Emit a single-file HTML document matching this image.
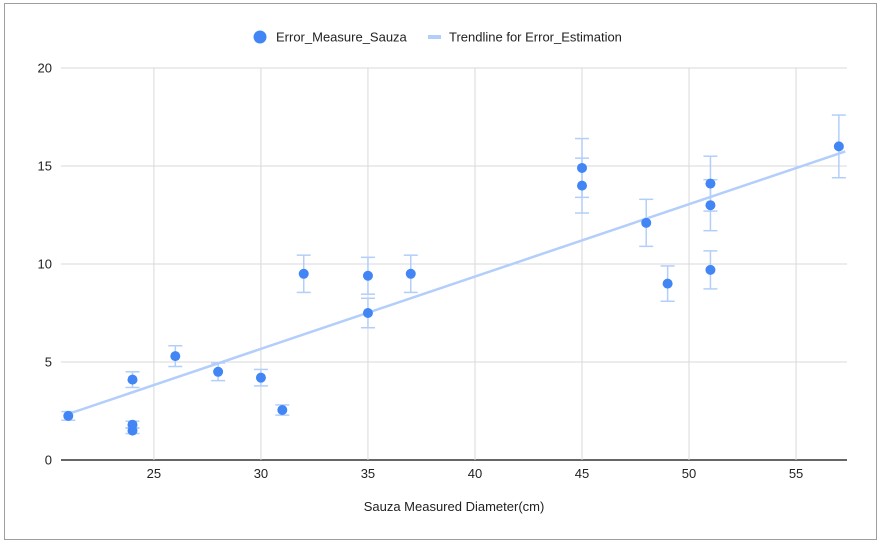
<!DOCTYPE html>
<html><head><meta charset="utf-8"><style>
body{margin:0;background:#fff;font-family:"Liberation Sans",sans-serif;}
svg text{font-family:"Liberation Sans",sans-serif;}
</style></head><body>
<svg id="chart" width="880" height="542" xmlns="http://www.w3.org/2000/svg">
<rect x="0" y="0" width="880" height="542" fill="#fff"/>
<rect x="4.5" y="3.5" width="872" height="536" fill="#fff" stroke="#9e9e9e"/>
<g>
<circle cx="260" cy="37" r="6.5" fill="#4285f4"/>
<text x="276" y="41.5" font-size="13" fill="#222">Error_Measure_Sauza</text>
<line x1="428" y1="37" x2="441" y2="37" stroke="#b3cefb" stroke-width="4"/>
<text x="449" y="41.5" font-size="13" fill="#222">Trendline for Error_Estimation</text>
</g>
<g id="grid"></g><g id="marks"></g>
<text x="454" y="511" font-size="13" text-anchor="middle" fill="#222">Sauza Measured Diameter(cm)</text>
</svg>
<script>
const xs=[21,24,24,24,26,28,30,31,32,35,35,37,45,45,48,49,51,51,51,57];
const ys=[2.25,4.1,1.8,1.5,5.3,4.5,4.2,2.55,9.5,9.4,7.5,9.5,14.9,14.0,12.1,9.0,14.1,13.0,9.7,16.0];
const errs=[0.22,0.4,0.18,0.15,0.53,0.45,0.42,0.26,0.95,0.94,0.75,0.95,1.5,1.4,1.2,0.9,1.4,1.3,0.97,1.6];
const xTicks=[25,30,35,40,45,50,55];
const yTicks=[0,5,10,15,20];
const trendSlope=[0.369];
const trendIntercept=[-5.4];
const X0=20.66,X1=57.38,PL=61,PR=847,PT=68,PB=460;
const sx=v=>PL+(v-X0)/(X1-X0)*(PR-PL);
const sy=v=>PB-(v/20)*(PB-PT);
const NS="http://www.w3.org/2000/svg";
const grid=document.getElementById('grid'),marks=document.getElementById('marks');
function mk(tag,attrs,parent){const e=document.createElementNS(NS,tag);for(const k in attrs)e.setAttribute(k,attrs[k]);parent.appendChild(e);return e;}
yTicks.forEach(t=>{
 const l=mk('line',{x1:PL,x2:PR,y1:sy(t),y2:sy(t),stroke:t===0?'#333':'#d9d9d9','stroke-width':t===0?1.5:1},grid);
 
 
 const tx=mk('text',{x:52,y:sy(t)+4.5,'font-size':13,'text-anchor':'end',fill:'#222'},grid);tx.textContent=t;
 
 
});
xTicks.forEach(t=>{
 const l=mk('line',{x1:sx(t),x2:sx(t),y1:PT,y2:PB,stroke:'#d9d9d9'},grid);
 
 
 const tx=mk('text',{x:sx(t),y:PB+18,'font-size':13,'text-anchor':'middle',fill:'#222'},grid);tx.textContent=t;
 
 
});
const tl=mk('line',{x1:sx(X0+0.3),y1:sy(trendSlope[0]*(X0+0.3)+trendIntercept[0]),x2:sx(57.3),y2:sy(trendSlope[0]*57.3+trendIntercept[0]),stroke:'#b3cefb','stroke-width':2.5},marks);


xs.forEach((x,i)=>{
 const g=mk('g',{},marks);
 
 
 const cx=sx(x),t=sy(ys[i]+errs[i]),b=sy(ys[i]-errs[i]);
 mk('line',{x1:cx,x2:cx,y1:t,y2:b,stroke:'#b3cefb','stroke-width':1.5},g);
 mk('line',{x1:cx-7,x2:cx+7,y1:t,y2:t,stroke:'#b3cefb','stroke-width':1.5},g);
 mk('line',{x1:cx-7,x2:cx+7,y1:b,y2:b,stroke:'#b3cefb','stroke-width':1.5},g);
});
xs.forEach((x,i)=>{
 const c=mk('circle',{cx:sx(x),cy:sy(ys[i]),r:5,fill:'#4285f4'},marks);
 
 
});
</script>
</body></html>
